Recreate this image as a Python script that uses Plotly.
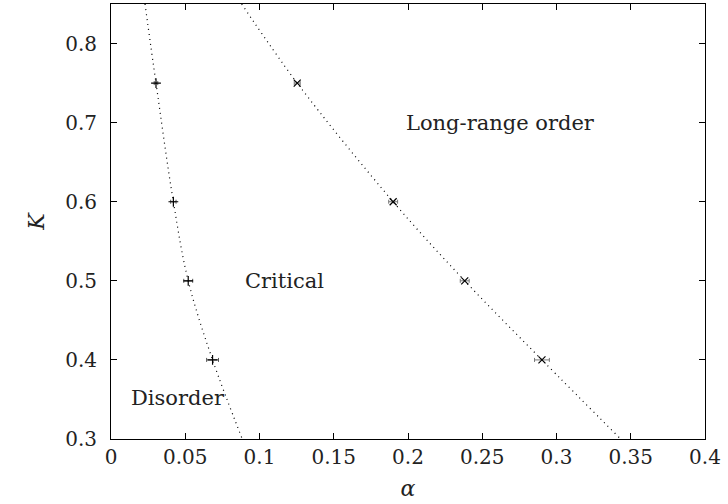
import plotly.graph_objects as go

# Disorder / Critical boundary (plus markers)
k_low = [0.75, 0.6, 0.5, 0.4]
alpha_low = [0.0303, 0.042, 0.052, 0.0684]
err_low = [0.0012, 0.0018, 0.003, 0.004]

# Critical / Long-range order boundary (cross markers)
k_high = [0.75, 0.6, 0.5, 0.4]
alpha_high = [0.1254, 0.19, 0.2382, 0.2902]
err_high = [0.002, 0.003, 0.003, 0.005]

# fitted dotted curves
fit_low_k = [0.85, 0.75, 0.6, 0.5, 0.4, 0.3]
fit_low_a = [0.0229, 0.0303, 0.042, 0.052, 0.0684, 0.0884]
fit_high_k = [0.85, 0.75, 0.6, 0.5, 0.4, 0.3]
fit_high_a = [0.088, 0.1254, 0.19, 0.2382, 0.2902, 0.3432]

xtick_vals = [0, 0.05, 0.1, 0.15, 0.2, 0.25, 0.3, 0.35, 0.4]
xtick_text = ["0", "0.05", "0.1", "0.15", "0.2", "0.25", "0.3", "0.35", "0.4"]
ytick_vals = [0.3, 0.4, 0.5, 0.6, 0.7, 0.8]
ytick_text = ["0.3", "0.4", "0.5", "0.6", "0.7", "0.8"]

labels = ["Long-range order", "Critical", "Disorder"]
label_x = [0.262, 0.117, 0.0454]
label_y = [0.70, 0.50, 0.352]

FONT = "DejaVu Serif"
INK = "#222222"

fig = go.Figure()
fig.add_trace(go.Scatter(x=fit_low_a, y=fit_low_k, mode="lines",
                         line=dict(color="black", width=1.2, dash="1px,4px", shape="spline"),
                         hoverinfo="skip", showlegend=False))
fig.add_trace(go.Scatter(x=fit_high_a, y=fit_high_k, mode="lines",
                         line=dict(color="black", width=1.2, dash="1px,4px", shape="spline"),
                         hoverinfo="skip", showlegend=False))
fig.add_trace(go.Scatter(x=alpha_low, y=k_low, mode="markers",
                         marker=dict(symbol="cross-thin", size=7, line=dict(color="black", width=1.2)),
                         error_x=dict(type="data", array=err_low, color="#555555", thickness=1, width=2),
                         showlegend=False))
fig.add_trace(go.Scatter(x=alpha_high, y=k_high, mode="markers",
                         marker=dict(symbol="x-thin", size=7, line=dict(color="black", width=1.2)),
                         error_x=dict(type="data", array=err_high, color="#777777", thickness=1, width=2),
                         showlegend=False))

for t, x, y in zip(labels, label_x, label_y):
    fig.add_annotation(x=x, y=y, text=t, showarrow=False,
                       font=dict(family=FONT, size=21, color=INK))

axis_common = dict(showline=True, linecolor="black", linewidth=1, mirror="ticks",
                   ticks="inside", ticklen=6, tickcolor="black", tickwidth=1,
                   showgrid=False, zeroline=False,
                   tickfont=dict(family=FONT, size=20, color=INK))

fig.update_xaxes(range=[0, 0.4], tickvals=xtick_vals, ticktext=xtick_text,
                 title=dict(text="<i>α</i>", font=dict(family=FONT, size=22, color=INK), standoff=12),
                 ticklabelstandoff=0, **axis_common)
fig.update_yaxes(range=[0.3, 0.85], tickvals=ytick_vals, ticktext=ytick_text,
                 title=dict(text="<i>K</i>", font=dict(family=FONT, size=22, color=INK), standoff=14),
                 ticklabelstandoff=9, **axis_common)

fig.update_layout(width=728, height=504, margin=dict(l=111, r=23, t=4, b=65),
                  font=dict(family=FONT, color=INK),
                  plot_bgcolor="white", paper_bgcolor="white", showlegend=False)

fig.write_html("out.html")
